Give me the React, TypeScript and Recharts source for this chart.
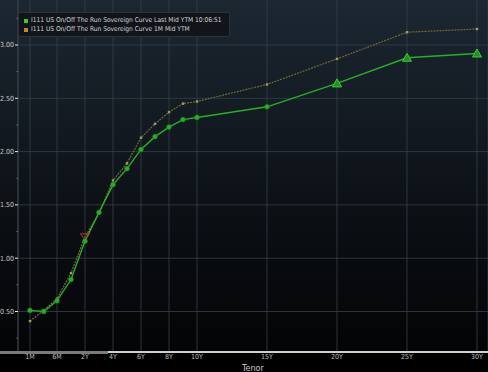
import {
  CartesianGrid,
  Line,
  LineChart,
  ReferenceLine,
  XAxis,
  YAxis,
} from 'recharts';

// tenors of the curve, in years
const tenorLabels = ['1M', '3M', '6M', '1Y', '2Y', '3Y', '4Y', '5Y', '6Y', '7Y', '8Y', '9Y', '10Y', '15Y', '20Y', '25Y', '30Y'];
const tenorYears = [1 / 12, 0.25, 0.5, 1, 2, 3, 4, 5, 6, 7, 8, 9, 10, 15, 20, 25, 30];

const lastYtm = [0.51, 0.50, 0.60, 0.80, 1.16, 1.43, 1.69, 1.84, 2.02, 2.14, 2.23, 2.30, 2.32, 2.42, 2.64, 2.88, 2.92];
const monthAgoYtm = [0.41, 0.51, 0.62, 0.86, 1.20, 1.42, 1.73, 1.89, 2.13, 2.26, 2.37, 2.45, 2.47, 2.63, 2.87, 3.12, 3.15];

const xTickLabels = ['1M', '6M', '2Y', '4Y', '6Y', '8Y', '10Y', '15Y', '20Y', '25Y', '30Y'];
const yMajorTicks = [0.5, 1.0, 1.5, 2.0, 2.5, 3.0];
const yAllTicks = [0.25, 0.5, 0.75, 1.0, 1.25, 1.5, 1.75, 2.0, 2.25, 2.5, 2.75, 3.0, 3.25];

const seriesNames = [
  'I111 US On/Off The Run Sovereign Curve Last Mid YTM 10:06:51',
  'I111 US On/Off The Run Sovereign Curve 1M Mid YTM',
];

// Bloomberg stretches the short end of the tenor axis
const shortEnd: [number, number][] = [
  [1 / 12, -1.93],
  [0.25, -0.95],
  [0.5, 0],
  [1, 1],
];
function axisPos(years: number) {
  if (years >= 1) return years;
  for (let i = 0; i < shortEnd.length - 1; i++) {
    const [a, pa] = shortEnd[i];
    const [b, pb] = shortEnd[i + 1];
    if (years <= b) return pa + ((years - a) / (b - a)) * (pb - pa);
  }
  return years;
}

const data = tenorLabels.map((t, i) => ({
  tenor: t,
  pos: axisPos(tenorYears[i]),
  last: lastYtm[i],
  monthAgo: monthAgoYtm[i],
}));

const xTicks = xTickLabels.map((l) => data.find((d) => d.tenor === l)!.pos);
const labelFor = (p: number) => data.find((d) => Math.abs(d.pos - p) < 1e-6)?.tenor ?? '';

const FONT = '"DejaVu Sans Condensed", "DejaVu Sans", sans-serif';
const GREEN = '#25b025';
const OLIVE = '#6f6838';
const GRID = '#36404a';

const GreenDot = (props: any) => {
  const { cx, cy, index } = props;
  if (cx == null || cy == null) return null;
  if (tenorYears[index] >= 20) {
    return (
      <polygon
        key={`g${index}`}
        points={`${cx},${cy - 4.5} ${cx - 4.5},${cy + 3.5} ${cx + 4.5},${cy + 3.5}`}
        fill="#1d931d"
        stroke="#3acb3a"
        strokeWidth={1}
      />
    );
  }
  return <circle key={`g${index}`} cx={cx} cy={cy} r={2.4} fill={GREEN} stroke="#1b8a1b" strokeWidth={0.6} />;
};

const OliveDot = (props: any) => {
  const { cx, cy, index } = props;
  if (cx == null || cy == null) return null;
  if (tenorLabels[index] === '2Y') {
    return (
      <polygon
        key={`o${index}`}
        points={`${cx - 4.5},${cy - 3} ${cx + 4.5},${cy - 3} ${cx},${cy + 3}`}
        fill="none"
        stroke="#c0302a"
        strokeWidth={1}
      />
    );
  }
  return <rect key={`o${index}`} x={cx - 1.2} y={cy - 1.2} width={2.4} height={2.4} fill="#a9995a" />;
};

const YTick = (props: any) => {
  const { x, y, payload } = props;
  const major = yMajorTicks.some((v) => Math.abs(v - payload.value) < 1e-6);
  return (
    <g>
      <line x1={x - (major ? 3 : 1.5)} x2={x} y1={y} y2={y} stroke={major ? '#e8e8e8' : '#6d747c'} strokeWidth={1} />
      {major && (
        <text x={x - 4} y={y} dy={2.5} textAnchor="end" fill="#c9c9c9" fontSize={7} fontFamily={FONT}>
          {payload.value.toFixed(2)}
        </text>
      )}
    </g>
  );
};

export default function App() {
  return (
    <div
      style={{
        position: 'fixed',
        left: 0,
        top: 0,
        width: 488,
        height: 372,
        background: 'linear-gradient(180deg, #1c2732 0%, #121920 35%, #0a0d11 65%, #030405 94.6%, #000 94.6%)',
        overflow: 'hidden',
      }}
    >
      <LineChart width={488} height={372} data={data} margin={{ top: 0, right: 0, left: 0, bottom: 0 }}>
        <CartesianGrid horizontal={false} stroke={GRID} strokeWidth={0.8} />
        {yMajorTicks.map((v) => (
          <ReferenceLine key={v} y={v} stroke={GRID} strokeWidth={0.8} />
        ))}
        <XAxis
          dataKey="pos"
          type="number"
          domain={[-2.786, 30.786]}
          allowDataOverflow
          ticks={xTicks}
          tickFormatter={labelFor}
          interval={0}
          height={20}
          tickSize={0}
          tickMargin={2}
          tick={{ fill: '#bdbdbd', fontSize: 7, fontFamily: FONT }}
          axisLine={{ stroke: '#d0d0d0', strokeWidth: 2 }}
          label={{ value: 'Tenor', position: 'insideBottom', offset: 1, fill: '#c8c8c8', fontSize: 9, fontFamily: FONT }}
        />
        <YAxis
          type="number"
          domain={[0.12, 3.422]}
          allowDataOverflow
          ticks={yAllTicks}
          interval={0}
          width={18}
          tickSize={0}
          tickMargin={0}
          tickLine={false}
          axisLine={{ stroke: GRID }}
          tick={<YTick />}
        />
        <Line
          dataKey="monthAgo"
          stroke={OLIVE}
          strokeWidth={1.2}
          strokeDasharray="2 1"
          dot={<OliveDot />}
          activeDot={false}
          isAnimationActive={false}
          type="linear"
        />
        <Line
          dataKey="last"
          stroke={GREEN}
          strokeWidth={1.4}
          dot={<GreenDot />}
          activeDot={false}
          isAnimationActive={false}
          type="linear"
        />
      </LineChart>
      <div style={{ position: 'absolute', left: 0, top: 351, width: 108, height: 3, background: '#7a7a7a' }} />
      <div
        style={{
          position: 'absolute',
          left: 18,
          top: 12,
          width: 212,
          height: 25,
          background: 'rgba(16, 20, 26, 0.92)',
          border: '1px solid #2b323a',
          borderRadius: 2,
          fontFamily: FONT,
          fontSize: 6.6,
          color: '#d2d2d2',
          boxSizing: 'border-box',
          padding: '3px 0 0 5px',
          lineHeight: '9px',
          whiteSpace: 'nowrap',
        }}
      >
        {seriesNames.map((n, i) => (
          <div key={n} style={{ display: 'flex', alignItems: 'center' }}>
            <span
              style={{
                display: 'inline-block',
                width: 4,
                height: 4,
                marginRight: 3,
                background: i === 0 ? '#2fcf2f' : '#c08a1e',
              }}
            />
            {n}
          </div>
        ))}
      </div>
    </div>
  );
}
